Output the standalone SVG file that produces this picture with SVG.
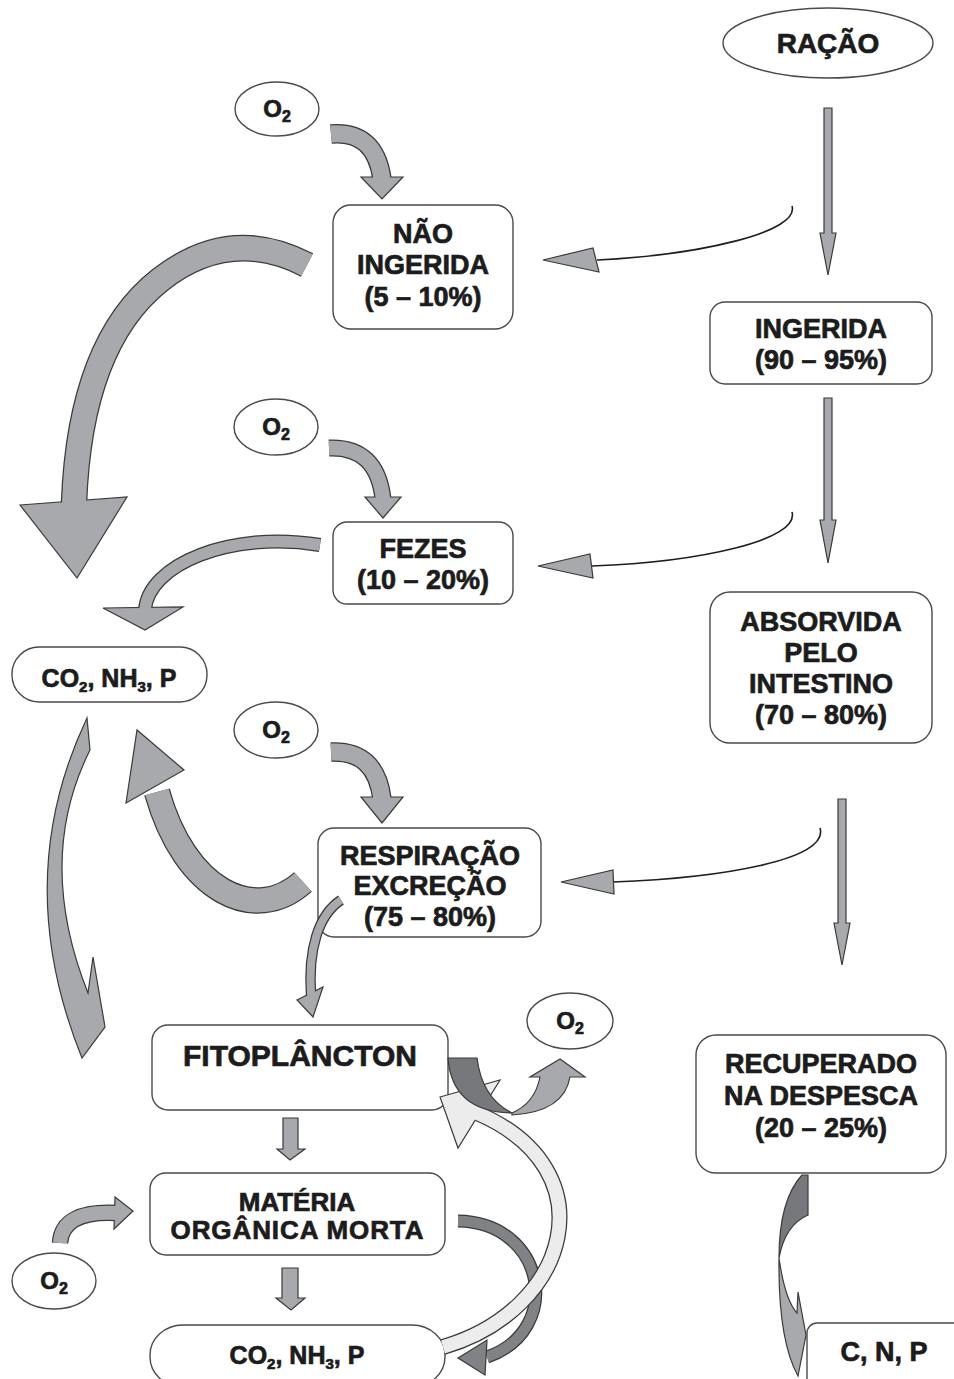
<svg xmlns="http://www.w3.org/2000/svg" width="954" height="1379" viewBox="0 0 954 1379">
<defs>
<style>
.box{fill:#fff;stroke:#4a4a4a;stroke-width:1.4}
.t{font-family:"Liberation Sans",Arial,Helvetica,sans-serif;font-weight:bold;fill:#1c1c1c;stroke:#1c1c1c;stroke-width:0.7;text-anchor:middle}
.ol{fill:none;stroke:#3a3a3a}
.gb{fill:none;stroke:#a7a9ac}
.lb{fill:none;stroke:#ececec}
.db{fill:none;stroke:#808285}
.g{fill:#a7a9ac;stroke:#3a3a3a;stroke-width:1.2}
.dk{fill:#77787b;stroke:#3a3a3a;stroke-width:1.2}
.lt{fill:#ececec;stroke:#3a3a3a;stroke-width:1.2}
.thin{fill:none;stroke:#1e1e1e;stroke-width:1.6}
</style>
</defs>
<rect width="954" height="1379" fill="#fff"/>

<g id="racao"><ellipse class="box" cx="828" cy="43" rx="105" ry="35"/><text class="t" x="828" y="53" font-size="28">RAÇÃO</text></g>
<g id="o2-1"><ellipse class="box" cx="277" cy="109" rx="42" ry="27"/><text class="t" x="277" y="117" font-size="24">O<tspan font-size="16" dy="5">2</tspan></text></g>
<g id="o2-2"><ellipse class="box" cx="276" cy="427" rx="42" ry="28"/><text class="t" x="276" y="435" font-size="24">O<tspan font-size="16" dy="5">2</tspan></text></g>
<g id="o2-3"><ellipse class="box" cx="276" cy="730" rx="42" ry="28"/><text class="t" x="276" y="738" font-size="24">O<tspan font-size="16" dy="5">2</tspan></text></g>
<g id="o2-4"><ellipse class="box" cx="570" cy="1021" rx="43" ry="28"/><text class="t" x="570" y="1029" font-size="24">O<tspan font-size="16" dy="5">2</tspan></text></g>
<g id="o2-5"><ellipse class="box" cx="54" cy="1281" rx="42" ry="28"/><text class="t" x="54" y="1289" font-size="24">O<tspan font-size="16" dy="5">2</tspan></text></g>

<g id="nao-ingerida"><rect class="box" x="333" y="205" width="180" height="124" rx="18"/><text class="t" font-size="27"><tspan x="423" y="243">NÃO</tspan><tspan x="423" y="274">INGERIDA</tspan><tspan x="423" y="306">(5 – 10%)</tspan></text></g>
<g id="ingerida"><rect class="box" x="710" y="302" width="222" height="82" rx="15"/><text class="t" font-size="27"><tspan x="821" y="338">INGERIDA</tspan><tspan x="821" y="369">(90 – 95%)</tspan></text></g>
<g id="fezes"><rect class="box" x="333" y="522" width="180" height="82" rx="14"/><text class="t" font-size="27"><tspan x="423" y="558">FEZES</tspan><tspan x="423" y="589">(10 – 20%)</tspan></text></g>
<g id="absorvida"><rect class="box" x="710" y="592" width="222" height="151" rx="20"/><text class="t" font-size="27"><tspan x="821" y="631">ABSORVIDA</tspan><tspan x="821" y="662">PELO</tspan><tspan x="821" y="693">INTESTINO</tspan><tspan x="821" y="724">(70 – 80%)</tspan></text></g>
<g id="co2-top"><rect class="box" x="12" y="647" width="195" height="55" rx="27"/><text class="t" x="109" y="687" font-size="25">CO<tspan font-size="15" dy="5">2</tspan><tspan dy="-5">, NH</tspan><tspan font-size="15" dy="5">3</tspan><tspan dy="-5">, P</tspan></text></g>
<g id="respiracao"><rect class="box" x="318" y="828" width="223" height="109" rx="16"/><text class="t" font-size="27"><tspan x="430" y="865">RESPIRAÇÃO</tspan><tspan x="430" y="895">EXCREÇÃO</tspan><tspan x="430" y="926">(75 – 80%)</tspan></text></g>
<g id="fitoplancton"><rect class="box" x="152" y="1025" width="296" height="85" rx="16"/><text class="t" x="300" y="1066" font-size="30">FITOPLÂNCTON</text></g>
<g id="materia"><rect class="box" x="150" y="1173" width="295" height="82" rx="16"/><text class="t" font-size="26"><tspan x="297" y="1211">MATÉRIA</tspan><tspan x="297" y="1239" textLength="253" lengthAdjust="spacing">ORGÂNICA MORTA</tspan></text></g>
<g id="co2-bottom"><rect class="box" x="150" y="1325" width="295" height="62" rx="33" ry="30"/><text class="t" x="297" y="1364" font-size="25">CO<tspan font-size="15" dy="5">2</tspan><tspan dy="-5">, NH</tspan><tspan font-size="15" dy="5">3</tspan><tspan dy="-5">, P</tspan></text></g>
<g id="recuperado"><rect class="box" x="696" y="1035" width="250" height="138" rx="20"/><text class="t" font-size="27"><tspan x="821" y="1073">RECUPERADO</tspan><tspan x="821" y="1105">NA DESPESCA</tspan><tspan x="821" y="1137">(20 – 25%)</tspan></text></g>
<g id="cnp"><rect class="box" x="807" y="1323" width="160" height="70" rx="10"/><text class="t" x="884" y="1361" font-size="27">C, N, P</text></g>

<g id="connectors">
<path class="g" d="M824 108 L832 108 L832 233 L836 233 L828 275 L820 233 L824 233 Z"/>
<path class="g" d="M824 398 L832 398 L832 520 L836 520 L828 563 L820 520 L824 520 Z"/>
<path class="g" d="M838 799 L846 799 L846 923 L850 923 L842 965 L834 923 L838 923 Z"/>
<path class="thin" d="M792 206 C800 232 700 255 597 260"/>
<path class="g" d="M543 260 L593 248 L599 272 Z"/>
<path class="thin" d="M792 512 C800 540 700 562 592 566"/>
<path class="g" d="M538 566 L590 554 L593 578 Z"/>
<path class="thin" d="M820 828 C830 860 720 878 613 882"/>
<path class="g" d="M561 882 L613 870 L614 894 Z"/>

<path class="ol" stroke-width="19.5" d="M331 134 Q375 130 382 179"/>
<path class="g" d="M361 177 L403 177 L382 199 Z"/>
<path class="gb" stroke-width="17" d="M331 134 Q375 130 382 179"/>
<path class="ol" stroke-width="17" d="M329 448 Q377 446 383 499"/>
<path class="g" d="M365 497 L401 497 L383 518 Z"/>
<path class="gb" stroke-width="14.5" d="M329 448 Q377 446 383 499"/>
<path class="ol" stroke-width="19.5" d="M331 752 Q376 750 382 799"/>
<path class="g" d="M361 797 L403 797 L382 823 Z"/>
<path class="gb" stroke-width="17" d="M331 752 Q376 750 382 799"/>

<path class="ol" stroke-width="26.5" d="M307 265 Q230 225 160 280 Q80 343 74 503"/>
<path class="g" d="M20 505 L127 497 L77 578 Z"/>
<path class="gb" stroke-width="24" d="M307 265 Q230 225 160 280 Q80 343 74 503"/>
<path class="ol" stroke-width="14" d="M320 545 C230 530 148 565 145 610"/>
<path class="g" d="M103 608 L183 607 L145 630 Z"/>
<path class="gb" stroke-width="11.5" d="M320 545 C230 530 148 565 145 610"/>
<path class="g" d="M87 718 L90 750 Q35 860 88 993 L93 957 L105 1027 L82 1058 Q10 880 87 718 Z"/>
<path class="ol" stroke-width="26.5" d="M303 882 C255 925 185 892 157 792"/>
<path class="g" d="M126 803 L184 770 L137 730 Z"/>
<path class="gb" stroke-width="24" d="M303 882 C255 925 185 892 157 792"/>
<path class="ol" stroke-width="10.5" d="M341 900 C318 915 308 950 311 995"/>
<path class="g" d="M297 1000 L323 987 L313 1017 Z"/>
<path class="gb" stroke-width="8" d="M341 900 C318 915 308 950 311 995"/>

<path class="g" d="M283 1118 L298 1118 L298 1149 L305 1149 L290 1160 L277 1149 L283 1149 Z"/>
<path class="g" d="M282 1268 L298 1268 L298 1298 L305 1298 L291 1310 L276 1298 L282 1298 Z"/>
<path class="ol" stroke-width="16.5" d="M60 1243 Q62 1210 117 1213"/>
<path class="g" d="M115 1197 L133 1211 L114 1229 Z"/>
<path class="gb" stroke-width="14" d="M60 1243 Q62 1210 117 1213"/>

<path class="ol" stroke-width="13" d="M458 1221 C545 1222 565 1330 487 1357"/>
<path class="db" stroke-width="10.5" d="M458 1221 C545 1222 565 1330 487 1357"/>
<path d="M458 1358 L487 1340 L485 1375 Z" fill="#808285" stroke="#3a3a3a" stroke-width="1.2"/>
<path class="ol" stroke-width="16" d="M443 1347 C570 1310 610 1170 477 1113"/>
<path class="lt" d="M440 1097 L500 1080 L458 1148 Z"/>
<path class="lb" stroke-width="13.5" d="M443 1347 C570 1310 610 1170 477 1113"/>
<path class="dk" d="M448 1058 L477 1058 Q482 1098 512 1113 Q452 1112 448 1058 Z"/>
<path class="g" d="M512 1113 Q535 1103 540 1077 L530 1077 L560 1059 L585 1077 L570 1077 Q564 1112 512 1115 Z"/>

<path class="dk" d="M802 1175 L808 1175 L808 1215 Q785 1225 779 1258 Q779 1200 802 1175 Z"/>
<path class="g" d="M779 1258 Q785 1300 797 1313 L798 1292 L806 1335 L798 1376 Q778 1340 779 1258 Z"/>
</g>
</svg>
